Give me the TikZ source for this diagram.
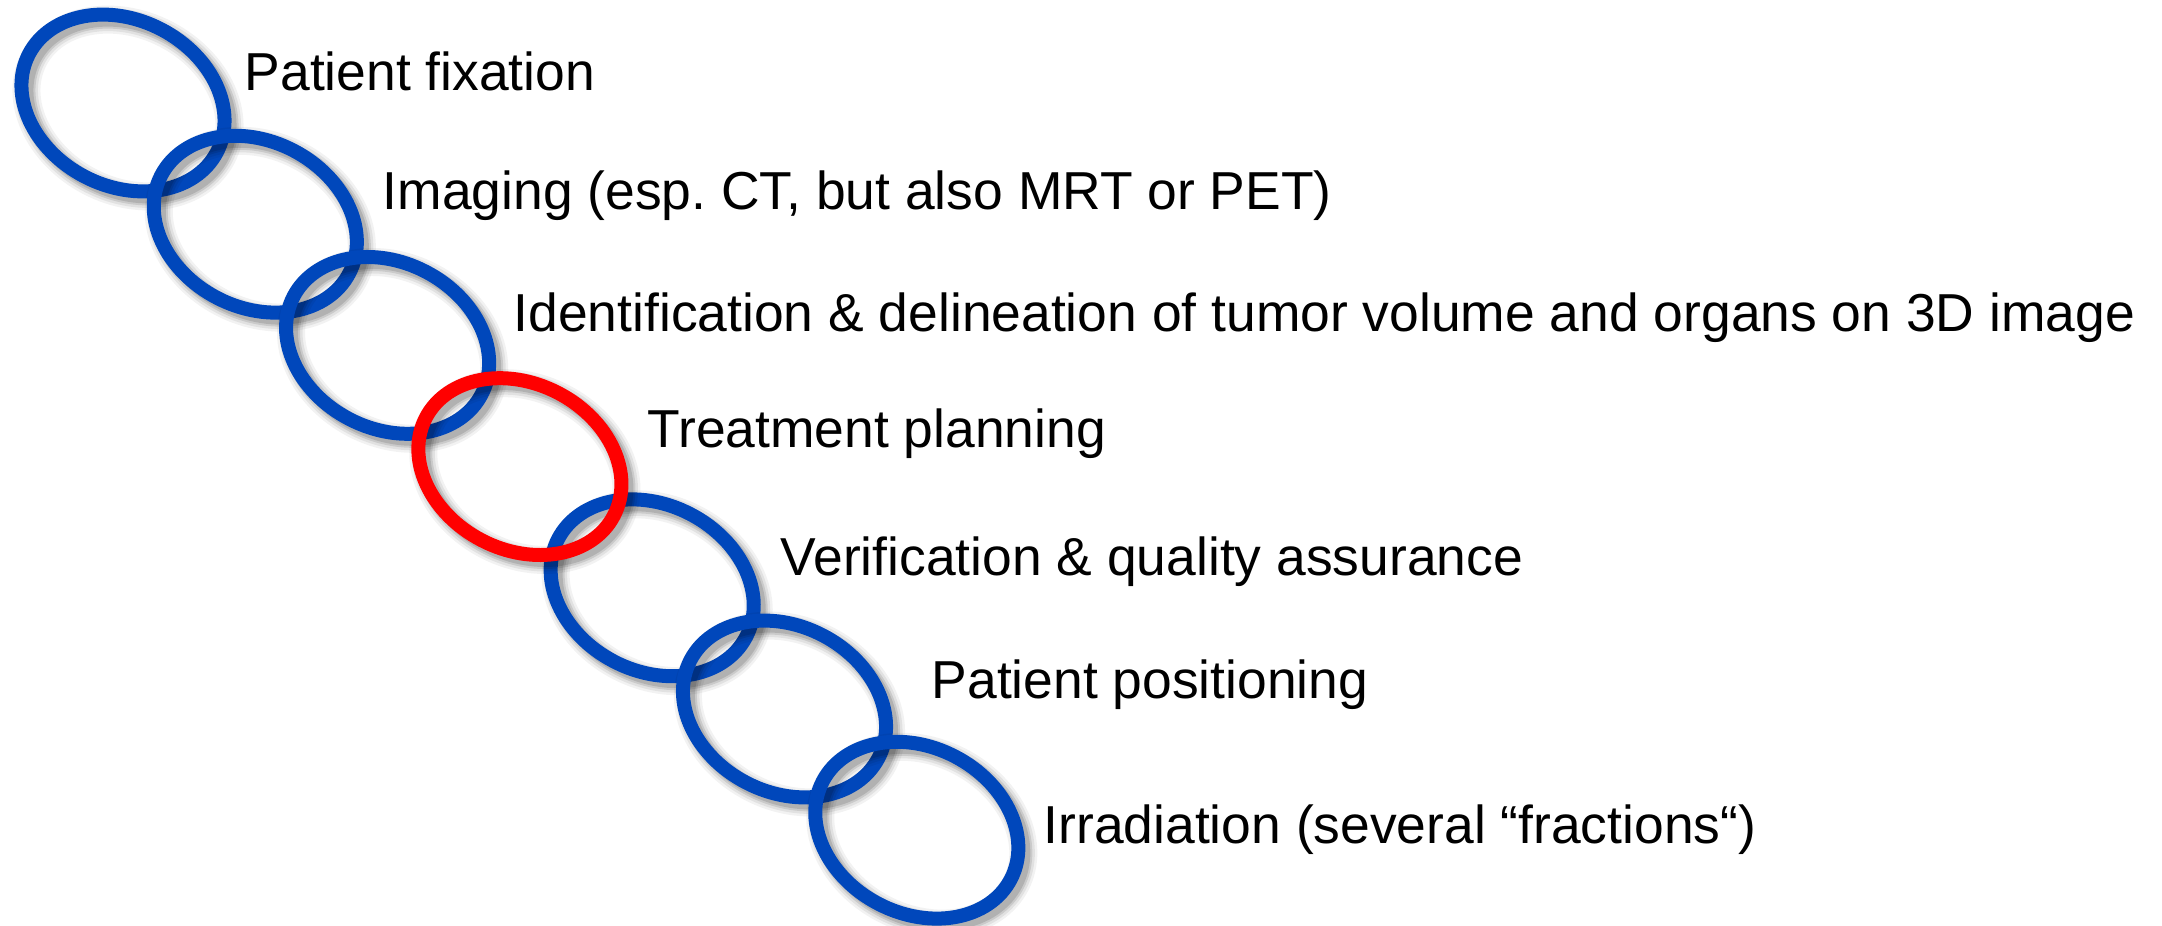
\documentclass[tikz,border=0pt]{standalone}
\usepackage{fontspec}
\setmainfont{Liberation Sans}
\usetikzlibrary{shapes.geometric}
\definecolor{ringblue}{RGB}{0,71,187}
\definecolor{ringred}{RGB}{255,0,0}
\frenchspacing

% soft drop shadow under a ring whose centre is (#1,#2)
\newcommand{\ringshade}[2]{%
  \foreach \w/\op in {2.8mm/0.05,2.3mm/0.07,1.8mm/0.10,1.4mm/0.12}{%
    \draw[black, opacity=\op, line width=\w, shift={(#1+5,#2+5)}, rotate=-27.5]
      (0,0) ellipse [x radius=106, y radius=83];
  }}

\begin{document}
\begin{tikzpicture}[x=0.1mm, y=-0.1mm,
  ring/.style={draw=#1, line width=1.4mm, ellipse, rotate=-27.5,
    minimum width=21.2mm, minimum height=16.6mm, inner sep=0pt, outer sep=0pt},
  steplabel/.style={anchor=base west, inner sep=0pt, font=\fontsize{15.2pt}{18pt}\selectfont}]
\useasboundingbox (0,0) rectangle (2162,926);

% chain of rings: later rings lie on top of earlier ones
\foreach \i in {1,2,3,5,6,7}{
  \pgfmathsetmacro{\cx}{123+(\i-1)*132.3}
  \pgfmathsetmacro{\cy}{103+(\i-1)*121.2}
  \ringshade{\cx}{\cy}
  \node[ring=ringblue] (r\i) at (\cx,\cy) {};
}
% the highlighted planning ring sits above its neighbours
\ringshade{519.9}{466.6}
\node[ring=ringred] (r4) at (519.9,466.6) {};

% step labels
\node[steplabel] (l1) at (244,91)  {Patient fixation};
\node[steplabel] (l2) at (382,210) {Imaging (esp. CT, but also MRT or PET)};
\node[steplabel] (l3) at (513,332) {Identification \& delineation of tumor volume and organs on 3D image};
\node[steplabel] (l4) at (647,447) {Treatment planning};
\node[steplabel] (l5) at (780,576) {Verification \& quality assurance};
\node[steplabel] (l6) at (931,698) {Patient positioning};
\node[steplabel] (l7) at (1043,843) {Irradiation (several “fractions“)};
\end{tikzpicture}
\end{document}
